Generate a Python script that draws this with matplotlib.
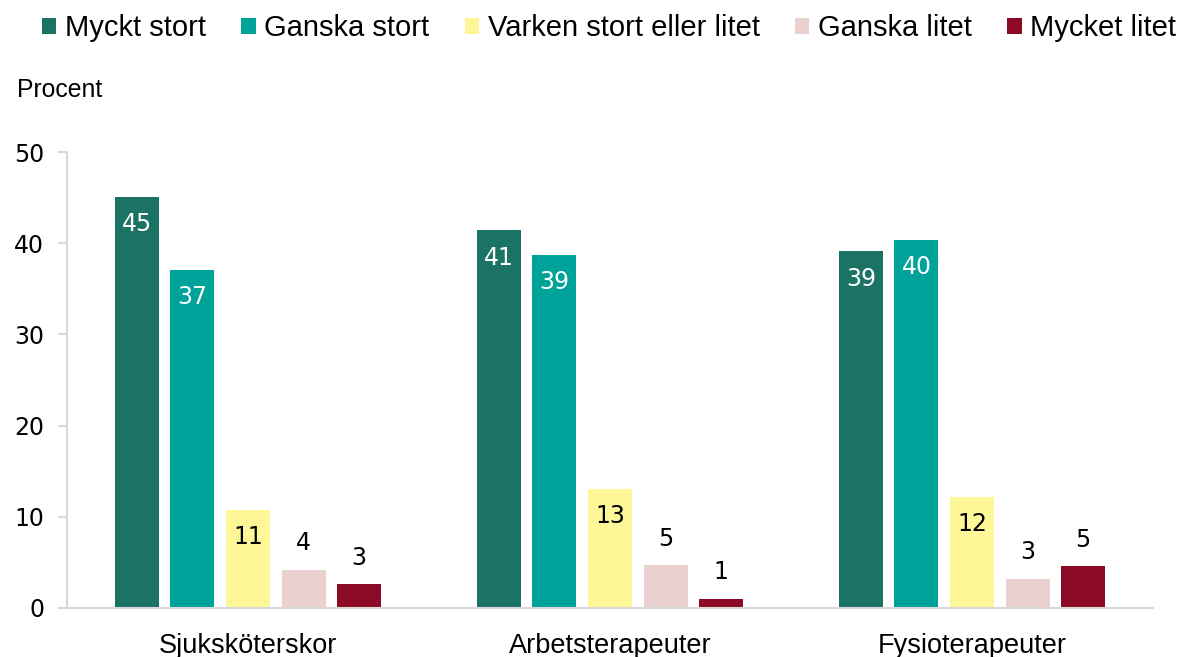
import numpy as np
import matplotlib
matplotlib.use("Agg")
import matplotlib.pyplot as plt
from matplotlib.patches import Patch

# Svarsandelar per yrkesgrupp (procent)
grupper = ["Sjuksköterskor", "Arbetsterapeuter", "Fysioterapeuter"]
svar = ["Myckt stort", "Ganska stort", "Varken stort eller litet", "Ganska litet", "Mycket litet"]
myckt_stort = [45.1, 41.4, 39.1]
ganska_stort = [37.1, 38.7, 40.4]
varken = [10.7, 13.1, 12.2]
ganska_litet = [4.2, 4.7, 3.2]
mycket_litet = [2.6, 1.0, 4.6]
yticks = [0, 10, 20, 30, 40, 50]

farger = ["#1b7365", "#00a399", "#fdf797", "#ebd0d0", "#8c0a26"]
textfarg = ["white", "white", "black", "black", "black"]

TEXT_FONT = ["Liberation Sans", "DejaVu Sans"]
NUM_FONT = ["DejaVu Sans"]

fig = plt.figure(figsize=(11.81, 6.57), dpi=100)
ax = fig.add_axes([0.0567, 0.0746, 0.9196, 0.694])

serier = [myckt_stort, ganska_stort, varken, ganska_litet, mycket_litet]
x = np.arange(len(grupper))
steg = 0.1536
bredd = 0.1216

for i, (varden, farg) in enumerate(zip(serier, farger)):
    pos = x + (i - 2) * steg
    staplar = ax.bar(pos, varden, width=bredd, color=farg, zorder=2)
    for rect, v in zip(staplar, varden):
        cx = rect.get_x() + rect.get_width() / 2
        if v >= 10:
            # etikett inne i stapeln
            ax.annotate(f"{v:.0f}", (cx, v), xytext=(0, -19.5), textcoords="offset points",
                        ha="center", va="center", color=textfarg[i],
                        fontsize=17, family=NUM_FONT)
        else:
            ax.annotate(f"{v:.0f}", (cx, v), xytext=(0, 19), textcoords="offset points",
                        ha="center", va="center", color="black",
                        fontsize=17, family=NUM_FONT)

ax.set_xlim(-0.5, len(grupper) - 0.5)
ax.set_ylim(0, 50)
ax.set_yticks(yticks)
ax.set_yticklabels([str(t) for t in yticks], fontsize=17, family=NUM_FONT)
ax.set_xticks(x)
ax.set_xticklabels(grupper, fontsize=19.5, family=TEXT_FONT)

for side in ["top", "right"]:
    ax.spines[side].set_visible(False)
for side in ["left", "bottom"]:
    ax.spines[side].set_color("#d9d9d9")
    ax.spines[side].set_linewidth(1.5)
ax.tick_params(axis="y", length=6.5, width=1.5, color="#d9d9d9", pad=10)
ax.tick_params(axis="x", length=0, pad=18)

fig.text(17 / 1181, 1 - 90 / 657, "Procent", fontsize=17.8, family=TEXT_FONT,
         ha="left", va="center")

handles = [Patch(facecolor=f, edgecolor="none") for f in farger]
fig.legend(handles, svar, loc="upper left", bbox_to_anchor=(0.0255, 0.996), ncol=5,
           frameon=False, handlelength=0.5, handleheight=0.5, handletextpad=0.3,
           columnspacing=1.2, borderaxespad=0, prop={"family": TEXT_FONT, "size": 21})

fig.savefig("out.png", dpi=100)
